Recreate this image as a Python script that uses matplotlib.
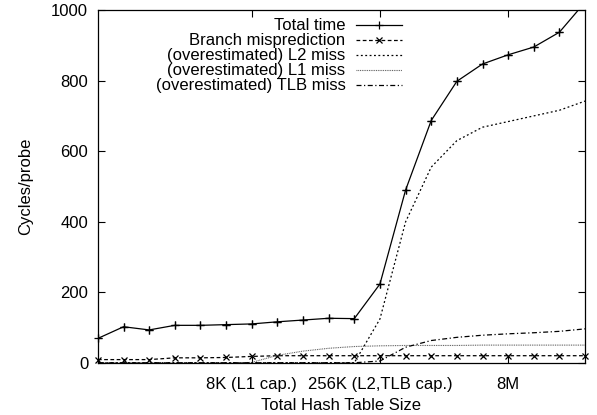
import matplotlib
matplotlib.use("Agg")
import matplotlib.pyplot as plt
import numpy as np
from matplotlib.ticker import NullLocator

plt.rcParams['font.family'] = ['Liberation Sans', 'DejaVu Sans']

# table sizes in bytes: 128 B .. 64 MB, one point per power of two
sizes = [2 ** k for k in range(7, 27)]

total_time = [70, 103, 94, 107, 107, 109, 111, 117, 122, 127,
              126, 224, 490, 687, 798, 847, 873, 895, 937, 1022]
branch_mispred = [10, 10, 10, 15, 15, 16, 19, 21, 21, 21,
                  21, 21, 21, 21, 21, 21, 21, 21, 21, 21]
l2_miss = [1, 1, 1, 1, 1, 1, 1, 1, 1, 1,
           1, 125, 400, 555, 630, 668, 684, 700, 716, 742]
l1_miss = [0, 0, 0, 0, 0, 0, 2, 22, 34, 42,
           47, 49, 50, 50, 50, 51, 51, 51, 51, 51]
tlb_miss = [1, 1, 1, 1, 1, 1, 1, 1, 1, 1,
            1, 6, 45, 64, 73, 79, 83, 86, 90, 97]

tick_sizes = [2 ** 13, 2 ** 18, 2 ** 23]
tick_labels = ['8K (L1 cap.)', '256K (L2,TLB cap.)', '8M']

x = np.array(sizes, dtype=float)
tt = np.array(total_time, dtype=float)
br = np.array(branch_mispred, dtype=float)

fig = plt.figure(figsize=(5.97, 4.15), dpi=100)
ax = fig.add_axes([0.164, 0.125, 0.816, 0.851])

ax.plot(x, tt, '-', color='black', lw=0.9, marker='+', ms=6, mew=0.9,
        label='Total time')
inside = tt <= 1000
ax.plot(x[inside], tt[inside], '+', color='black', ms=6, mew=0.9, clip_on=False)

ax.plot(x, br, color='black', lw=0.9, ls=(0, (3, 2)), marker='x', ms=4.5, mew=0.9,
        clip_on=False, label='Branch misprediction')
ax.plot(x, l2_miss, color='black', lw=0.9, ls=(0, (1.5, 2)),
        label='(overestimated) L2 miss')
ax.plot(x, l1_miss, color='#555555', lw=0.8, ls=(0, (0.8, 0.8)),
        label='(overestimated) L1 miss')
ax.plot(x, tlb_miss, color='black', lw=0.9, ls=(0, (4, 2, 1, 2)),
        label='(overestimated) TLB miss')

ax.set_xscale('log', base=2)
ax.set_xlim(sizes[0], sizes[-1])
ax.set_ylim(0, 1000)
ax.set_xticks(tick_sizes)
ax.set_xticklabels(tick_labels)
ax.xaxis.set_minor_locator(NullLocator())
ax.set_yticks(range(0, 1001, 200))

ax.tick_params(direction='in', top=True, right=True, length=5, width=0.8,
               labelsize=12)
ax.tick_params(axis='x', pad=10)
ax.tick_params(axis='y', pad=7)
for s in ax.spines.values():
    s.set_linewidth(0.9)

ax.set_xlabel('Total Hash Table Size', fontsize=12, labelpad=4)
ax.set_ylabel('Cycles/probe', fontsize=12, labelpad=13)

ax.legend(loc='upper right', bbox_to_anchor=(0.635, 0.99), frameon=False,
          markerfirst=False, fontsize=12, handlelength=2.8, handletextpad=0.6,
          labelspacing=0.0, borderpad=0.3, borderaxespad=0)

fig.savefig('out.png', dpi=100)
